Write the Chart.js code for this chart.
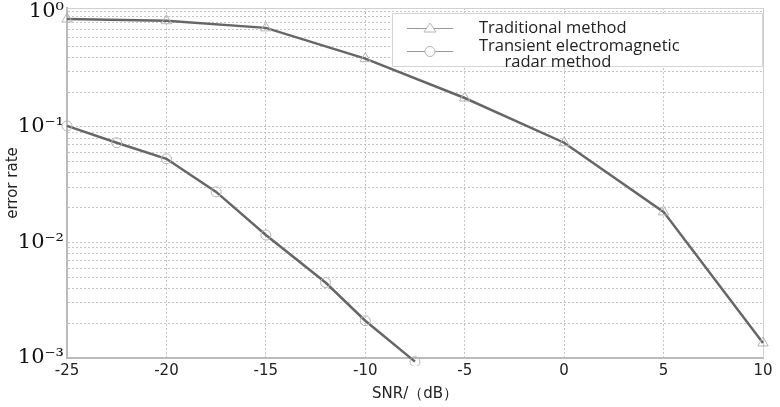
<!DOCTYPE html>
<html>
<head>
<meta charset="utf-8">
<script src="https://cdn.jsdelivr.net/npm/chart.js@4/dist/chart.umd.min.js"></script>
<style>
  html, body { margin: 0; padding: 0; background: #fff; }
  #wrap { width: 780px; height: 407px; position: relative; }
</style>
</head>
<body>
<div id="wrap"><canvas id="chart"></canvas></div>
<script>
const snrTraditional = [-25, -20, -15, -10, -5, 0, 5, 10];
const errTraditional = [0.86, 0.83, 0.72, 0.39, 0.178, 0.073, 0.0184, 0.00135];
const snrTransient = [-25, -22.5, -20, -17.5, -15, -12, -10, -7.5];
const errTransient = [0.102, 0.073, 0.053, 0.0274, 0.0116, 0.0045, 0.0021, 0.00093];
const xTicks = [-25, -20, -15, -10, -5, 0, 5, 10];
const decadeLabels = { 1: '10⁰', 0.1: '10⁻¹', 0.01: '10⁻²', 0.001: '10⁻³' };
const seriesNames = ['Traditional method', 'Transient electromagnetic', 'radar method'];

const LINE = '#666666';
const MARK = '#b5b5b5';
const GRID = '#c4c4c4';

function toPoints(xs, ys) {
    return xs.map((x, i) => ({ x: x, y: ys[i] }));
}

// light frame on top/right + legend box with two-line second entry
const legendBox = {
    id: 'legendBox',
    beforeDatasetsDraw(chart) {
        const a = chart.chartArea;
        const ctx = chart.ctx;
        ctx.save();
        ctx.strokeStyle = '#d0d0d0';
        ctx.lineWidth = 1;
        ctx.beginPath();
        ctx.moveTo(a.left, a.top + 0.5); ctx.lineTo(a.right, a.top + 0.5);
        ctx.moveTo(a.right + 0.5, a.top); ctx.lineTo(a.right + 0.5, a.bottom);
        ctx.stroke();
        ctx.restore();
    },
    afterDraw(chart) {
        const ctx = chart.ctx;
        ctx.save();
        ctx.fillStyle = '#fff';
        ctx.fillRect(392, 13, 370, 53);
        ctx.setLineDash([1, 1]);
        ctx.strokeStyle = '#aaa';
        ctx.lineWidth = 1;
        ctx.strokeRect(392.5, 13.5, 370, 53);
        ctx.setLineDash([]);

        ctx.strokeStyle = '#999';
        ctx.beginPath();
        ctx.moveTo(407, 28.5); ctx.lineTo(453, 28.5);
        ctx.moveTo(407, 51.5); ctx.lineTo(453, 51.5);
        ctx.stroke();
        ctx.strokeStyle = MARK;
        ctx.fillStyle = '#fff';
        ctx.beginPath();
        ctx.moveTo(430, 23); ctx.lineTo(436, 32); ctx.lineTo(424, 32); ctx.closePath();
        ctx.fill(); ctx.stroke();
        ctx.beginPath();
        ctx.arc(430, 51.5, 5, 0, Math.PI * 2);
        ctx.fill(); ctx.stroke();

        ctx.fillStyle = '#222';
        ctx.font = '16.5px "Open Sans"';
        ctx.textBaseline = 'middle';
        ctx.textAlign = 'left';
        ctx.fillText(seriesNames[0], 479, 28);
        ctx.fillText(seriesNames[1], 479, 46);
        ctx.textAlign = 'center';
        ctx.fillText(seriesNames[2], 558, 62);
        ctx.restore();
    }
};

new Chart(document.getElementById('chart'), {
    type: 'line',
    data: {
        datasets: [{
            label: seriesNames[0],
            data: toPoints(snrTraditional, errTraditional),
            borderColor: LINE,
            borderWidth: 2.5,
            pointStyle: 'triangle',
            pointRadius: 6,
            pointBorderColor: MARK,
            pointBackgroundColor: 'rgba(0,0,0,0)',
            pointBorderWidth: 1,
            tension: 0,
            clip: 8
        }, {
            label: seriesNames[1] + ' ' + seriesNames[2],
            data: toPoints(snrTransient, errTransient),
            borderColor: LINE,
            borderWidth: 2.5,
            pointStyle: 'circle',
            pointRadius: 5,
            pointBorderColor: MARK,
            pointBackgroundColor: 'rgba(0,0,0,0)',
            pointBorderWidth: 1,
            tension: 0,
            clip: 8
        }]
    },
    options: {
        responsive: true,
        maintainAspectRatio: false,
        animation: false,
        layout: { padding: { left: 0, right: 17, top: 8, bottom: 0 } },
        plugins: {
            legend: { display: false },
            tooltip: { enabled: false }
        },
        scales: {
            x: {
                type: 'linear',
                min: -25,
                max: 10,
                afterBuildTicks: scale => {
                    scale.ticks = xTicks.map(v => ({ value: v }));
                },
                afterFit: scale => { scale.height = 49; },
                ticks: {
                    color: '#222',
                    font: { family: 'DejaVu Sans', size: 15 },
                    padding: 4,
                    maxRotation: 0
                },
                grid: {
                    color: GRID,
                    drawTicks: false
                },
                border: { color: '#bbb', width: 2, dash: [2, 2] },
                title: {
                    display: true,
                    text: 'SNR/（dB）',
                    color: '#222',
                    font: { family: 'DejaVu Sans', size: 15 },
                    padding: { top: 3 }
                }
            },
            y: {
                type: 'logarithmic',
                min: 0.001,
                max: 1.07,
                afterBuildTicks: scale => {
                    const t = [];
                    [0.001, 0.01, 0.1, 1].forEach(d => {
                        for (let m = 1; m <= 9; m++) {
                            const v = +(d * m).toPrecision(3);
                            if (v >= 0.001 && v <= 1.07) t.push({ value: v });
                        }
                    });
                    scale.ticks = t;
                },
                afterFit: scale => {
                    scale.width = 67;
                    scale.paddingTop = 0;
                    scale.paddingBottom = 0;
                },
                ticks: {
                    autoSkip: false,
                    color: '#111',
                    font: { family: 'DejaVu Serif', size: 21 },
                    padding: 3,
                    callback: v => decadeLabels[v] || ''
                },
                grid: {
                    color: GRID,
                    drawTicks: false
                },
                border: { color: '#bbb', width: 2, dash: [2, 2] },
                title: {
                    display: true,
                    text: 'error rate',
                    color: '#222',
                    font: { family: 'DejaVu Sans', size: 15 },
                    padding: { bottom: 0 }
                }
            }
        }
    },
    plugins: [legendBox]
});
</script>
</body>
</html>
